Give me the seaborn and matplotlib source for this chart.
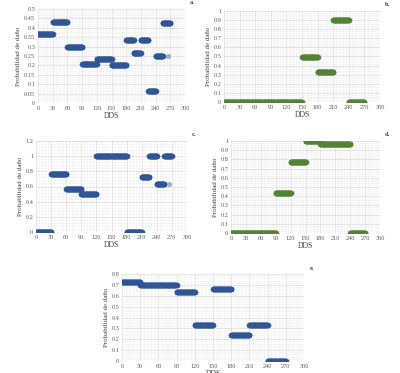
import numpy as np
import pandas as pd
import matplotlib
matplotlib.use("Agg")
import matplotlib.pyplot as plt
from matplotlib.ticker import MultipleLocator, FuncFormatter
import seaborn as sns

# segmentos (inicio, fin, probabilidad)
a_start = [0, 30, 60, 90, 120, 150, 180, 195, 210, 225, 240, 255]
a_end = [30, 60, 90, 120, 150, 180, 195, 210, 225, 240, 255, 270]
a_prob = [0.365, 0.43, 0.30, 0.205, 0.235, 0.20, 0.335, 0.265, 0.335, 0.065, 0.25, 0.425]
a_extra = (265, 0.25)

b_start = [0, 150, 180, 210, 240]
b_end = [150, 180, 210, 240, 270]
b_prob = [0.0, 0.5, 0.333, 0.9, 0.0]

c_start = [0, 30, 60, 90, 120, 180, 210, 225, 240, 255]
c_end = [30, 60, 90, 120, 180, 210, 225, 240, 255, 270]
c_prob = [0.0, 0.77, 0.57, 0.50, 1.0, 0.0, 0.73, 1.0, 0.63, 1.0]
c_extra = (265, 0.63)

d_start = [0, 90, 120, 150, 180, 240]
d_end = [90, 120, 150, 180, 240, 270]
d_prob = [0.0, 0.43, 0.77, 1.0, 0.97, 0.0]

e_start = [0, 30, 90, 120, 150, 180, 210, 240]
e_end = [30, 90, 120, 150, 180, 210, 240, 270]
e_prob = [0.73, 0.70, 0.635, 0.335, 0.665, 0.235, 0.335, 0.0]

BLUE = "#2F5597"
GREEN = "#548235"


def expand(starts, ends, probs):
    """ Cada segmento se dibuja como puntos diarios. """
    rows = []
    for s, e, p in zip(starts, ends, probs):
        for day in range(s, e + 1):
            rows.append({"DDS": day, "prob": p})
    return pd.DataFrame(rows)


sns.set_style("white")
plt.rcParams["font.family"] = ["Liberation Serif", "DejaVu Serif"]

fig = plt.figure(figsize=(4.0, 3.73), dpi=100)
W, H = 400, 373


def add_axes(x0, y0, x1, y1):
    return fig.add_axes([x0 / W, 1 - y1 / H, (x1 - x0) / W, (y1 - y0) / H])


panels = [
    (add_axes(38, 9, 185, 103), expand(a_start, a_end, a_prob), BLUE, 0.5, 0.05, "a.", a_extra),
    (add_axes(224, 11, 380, 102), expand(b_start, b_end, b_prob), GREEN, 1.0, 0.1, "b.", None),
    (add_axes(36, 141, 187, 232), expand(c_start, c_end, c_prob), BLUE, 1.2, 0.2, "c.", c_extra),
    (add_axes(231, 141, 380, 233), expand(d_start, d_end, d_prob), GREEN, 1.0, 0.1, "d.", None),
    (add_axes(122, 274, 304, 361), expand(e_start, e_end, e_prob), BLUE, 0.8, 0.1, "e.", None),
]

fmt = FuncFormatter(lambda v, pos: f"{round(v, 3):g}")

for ax, df, color, ymax, ystep, letter, extra in panels:
    sns.scatterplot(data=df, x="DDS", y="prob", color=color, s=14,
                    edgecolor=color, linewidth=0.3, ax=ax, legend=False)
    if extra is not None:
        ax.scatter([extra[0]], [extra[1]], s=10, color="#9DAFCB",
                   edgecolor="#7F93B5", linewidth=0.3, zorder=3)
    ax.set_xlim(0, 300)
    ax.set_ylim(0, ymax)
    ax.xaxis.set_major_locator(MultipleLocator(30))
    ax.xaxis.set_minor_locator(MultipleLocator(6))
    ax.yaxis.set_major_locator(MultipleLocator(ystep))
    ax.yaxis.set_minor_locator(MultipleLocator(ystep / 5))
    ax.yaxis.set_major_formatter(fmt)
    ax.grid(which="major", color="#D9D9D9", linewidth=0.5)
    ax.grid(which="minor", color="#EFEFEF", linewidth=0.4)
    ax.set_axisbelow(True)
    for sp in ax.spines.values():
        sp.set_visible(False)
    ax.tick_params(length=0, labelsize=4.5, pad=2, colors="#595959")
    ax.set_xlabel("DDS", fontsize=5.5, labelpad=1, color="#404040")
    ax.set_ylabel("Probabilidad de daño", fontsize=5, labelpad=2, color="#404040")
    ax.text(1.03, 1.04, letter, transform=ax.transAxes, fontsize=4.5,
            fontweight="bold", ha="left", va="bottom", color="#404040")

fig.savefig("out.png", dpi=100)
